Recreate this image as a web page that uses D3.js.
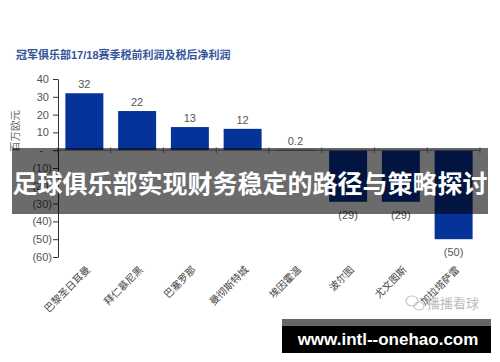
<!DOCTYPE html>
<html>
<head>
<meta charset="utf-8">
<script src="https://cdn.jsdelivr.net/npm/d3@7"></script>
<style>
  body { margin: 0; background: #fff; }
  svg { display: block; }
  text { font-family: "Liberation Sans", Arial, "Noto Sans CJK SC", sans-serif; }
</style>
</head>
<body>
<div id="chart"></div>
<script>
const W = 500, H = 362;
const clubs = ["巴黎圣日耳曼", "拜仁慕尼黑", "巴塞罗那", "曼彻斯特城", "埃因霍温", "波尔图", "尤文图斯", "加拉塔萨雷"];
const profit = [32, 22, 13, 12, 0.2, -29, -29, -50];
const yTicks = [40, 30, 20, 10, 0, -10, -20, -30, -40, -50, -60];
const title = "冠军俱乐部17/18赛季税前利润及税后净利润";
const yLabel = "百万欧元";
const banner = "足球俱乐部实现财务稳定的路径与策略探讨";
const footer = "www.intl--onehao.com";
const mark = "播播看球";

const svg = d3.select("#chart").append("svg")
    .attr("width", W).attr("height", H);

// scales
const x = d3.scaleBand().domain(clubs).range([58, 480]).padding(0);
const y = d3.scaleLinear().domain([-60, 40]).range([257, 79]);
const barW = x.bandwidth() * 0.72;
const fmt = v => v === 0 ? "-" : (v < 0 ? "(" + Math.abs(v) + ")" : String(v));

// title
svg.append("text")
    .attr("x", 16).attr("y", 59)
    .attr("font-size", 11).attr("font-weight", "bold")
    .attr("fill", "#34549a")
    .attr("font-family", "'Noto Sans CJK SC', sans-serif")
    .text(title);

// y label
svg.append("text")
    .attr("transform", "translate(19,131) rotate(-90)")
    .attr("text-anchor", "middle")
    .attr("font-size", 10.5).attr("fill", "#666")
    .attr("font-family", "'Noto Sans CJK SC', sans-serif")
    .text(yLabel);

// bars
svg.append("g").selectAll("rect")
    .data(profit)
    .join("rect")
    .attr("x", (d, i) => x(clubs[i]) + (x.bandwidth() - barW) / 2)
    .attr("y", d => y(Math.max(d, 0)))
    .attr("width", barW)
    .attr("height", d => Math.max(Math.abs(y(d) - y(0)), 0.6))
    .attr("fill", "#06339a");

// value labels
svg.append("g").selectAll("text")
    .data(profit)
    .join("text")
    .attr("x", (d, i) => x(clubs[i]) + x.bandwidth() / 2)
    .attr("y", d => d >= 0 ? y(d) - 9 : y(d) + 13)
    .attr("dy", "0.35em")
    .attr("text-anchor", "middle")
    .attr("font-size", 11).attr("fill", "#555")
    .text(d => d < 0 ? "(" + Math.abs(d) + ")" : d);

// x axis (zero line)
const xAxis = svg.append("g")
    .attr("transform", "translate(0," + y(0) + ")");
xAxis.append("line")
    .attr("x1", 58).attr("x2", 480)
    .attr("stroke", "#888").attr("stroke-width", 1);
xAxis.selectAll("line.tk")
    .data(clubs.map(c => x(c)).concat([x.range()[1]]))
    .join("line").attr("class", "tk")
    .attr("x1", d => d).attr("x2", d => d)
    .attr("y1", -3).attr("y2", 3)
    .attr("stroke", "#888");

// category labels
svg.append("g").selectAll("text")
    .data(clubs)
    .join("text")
    .attr("transform", d => "translate(" + (x(d) + x.bandwidth() / 2 + 4) + ",268) rotate(-45)")
    .attr("text-anchor", "end")
    .attr("dy", "0.35em")
    .attr("font-size", 10).attr("fill", "#444")
    .attr("font-family", "'Noto Sans CJK SC', sans-serif")
    .text(d => d);

// y axis
const yAxis = svg.append("g")
    .attr("transform", "translate(58,0)")
    .call(d3.axisLeft(y).tickValues(yTicks).tickFormat(fmt).tickSize(5).tickSizeOuter(0));
yAxis.select(".domain").attr("stroke", "#333");
yAxis.selectAll(".tick line").attr("stroke", "#333");
yAxis.selectAll(".tick text")
    .attr("font-size", 11).attr("fill", "#555")
    .attr("font-family", "'Liberation Sans', Arial, sans-serif")
    .attr("x", d => d === 0 ? -15 : (d < 0 ? -6 : -9));

// overlay banner
svg.append("rect")
    .attr("x", 12).attr("y", 148).attr("width", 476).attr("height", 66)
    .attr("fill", "rgba(0,0,0,0.58)");
svg.append("text")
    .attr("x", 250).attr("y", 184)
    .attr("dy", "0.35em")
    .attr("text-anchor", "middle")
    .attr("font-size", 25).attr("font-weight", "bold")
    .attr("fill", "#fff")
    .attr("font-family", "'Noto Sans CJK SC', sans-serif")
    .text(banner);

// watermark
const wm = svg.append("g").attr("fill", "none").attr("stroke", "#c4c4c4").attr("stroke-width", 1.2);
wm.append("ellipse").attr("cx", 412).attr("cy", 301).attr("rx", 6).attr("ry", 5);
wm.append("ellipse").attr("cx", 419).attr("cy", 306).attr("rx", 5).attr("ry", 4);
svg.append("text")
    .attr("x", 427).attr("y", 303)
    .attr("dy", "0.35em")
    .attr("font-size", 13).attr("fill", "#bdbdbd")
    .attr("font-family", "'Noto Sans CJK SC', sans-serif")
    .text(mark);

// footer box
svg.append("rect").attr("x", 282).attr("y", 319).attr("width", 209).attr("height", 7).attr("fill", "#666");
svg.append("rect").attr("x", 282).attr("y", 326).attr("width", 209).attr("height", 27).attr("fill", "#000");
svg.append("text")
    .attr("x", 388).attr("y", 339.5)
    .attr("dy", "0.35em")
    .attr("text-anchor", "middle")
    .attr("font-size", 17).attr("font-weight", "bold")
    .attr("fill", "#fff")
    .attr("font-family", "'DejaVu Sans', sans-serif")
    .text(footer);
</script>
</body>
</html>
